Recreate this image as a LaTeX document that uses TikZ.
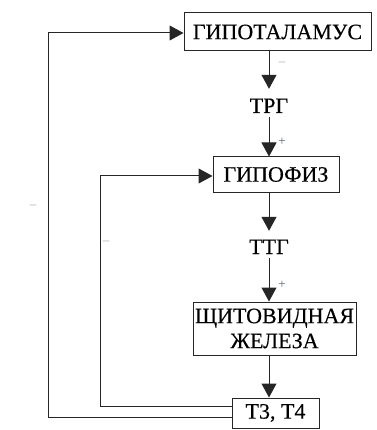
\documentclass[tikz,border=0pt]{standalone}
\usepackage{fontspec}
\setmainfont{Liberation Serif}
\newfontfamily\heavyserif{Liberation Serif}[FakeBold=0.35]
\usetikzlibrary{arrows.meta}
\definecolor{plusc}{RGB}{80,95,125}
\definecolor{minusc}{RGB}{170,170,170}
\begin{document}
\begin{tikzpicture}[x=1pt,y=-1pt,
  box/.style={draw=black!85, line width=1pt, inner sep=0pt, text=black, font=\heavyserif\fontsize{22}{25}\selectfont, align=center},
  lbl/.style={inner sep=4pt, text height=13pt, text depth=0pt, text=black, font=\heavyserif\fontsize{22}{25}\selectfont},
  conn/.style={draw=black!85, line width=1pt},
  arr/.style={conn, -{Triangle[length=14pt,width=15pt]}},
  sgn/.style={font=\fontsize{13}{13}\selectfont, inner sep=0pt}]
\useasboundingbox (0,0) rectangle (376,430);
\node[box, minimum width=187, minimum height=38] (hyp) at (277.5,32) {ГИПОТАЛАМУС};
\node[box, minimum width=126, minimum height=35] (hpf) at (276,174.5) {ГИПОФИЗ};
\node[box, minimum width=163, minimum height=53] (thy) at (274.5,328.5) {ЩИТОВИДНАЯ\\ЖЕЛЕЗА};
\node[box, minimum width=87, minimum height=30] (t34) at (275.5,413) {Т3, Т4};
\node[lbl] (trg) at (269,106.5) {ТРГ};
\node[lbl] (ttg) at (269,247.5) {ТТГ};
\coordinate (col) at (269,0);
\draw[arr, shorten >=7pt] (hyp.south -| col) -- (trg.north);
\draw[arr] (trg.south) -- (hpf.north -| col);
\draw[arr, shorten >=6pt] (hpf.south -| col) -- (ttg.north);
\draw[arr] (ttg.south) -- (thy.north -| col);
\draw[arr] (thy.south -| col) -- (t34.north -| col);
\coordinate (o1) at (48,417);
\coordinate (o2) at (48,33);
\coordinate (i1) at (100,406);
\coordinate (i2) at (100,176);
\draw[arr] (t34.west |- o1) -- (o1) -- (o2) -- (hyp.west |- o2);
\draw[arr] (t34.west |- i1) -- (i1) -- (i2) -- (hpf.west |- i2);
\node[sgn, text=minusc] (s1) at (282,64) {–};
\node[sgn, text=plusc] (s2) at (282,142) {+};
\node[sgn, text=plusc] (s3) at (282,285) {+};
\node[sgn, text=minusc] (s4) at (33,207) {–};
\node[sgn, text=minusc] (s5) at (106,243) {–};
\end{tikzpicture}
\end{document}
